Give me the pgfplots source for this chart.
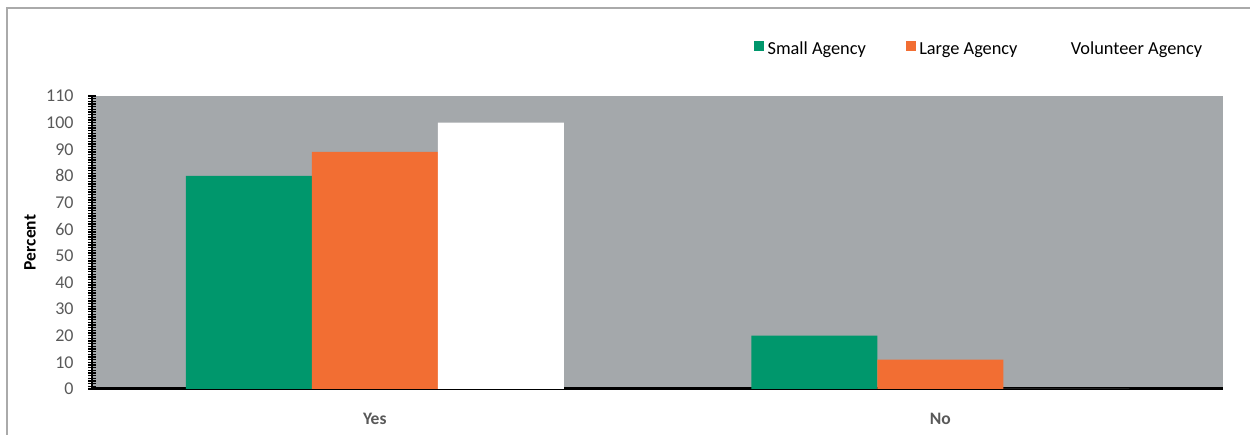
\documentclass[border=0pt]{standalone}
\usepackage{pgfplots}
\pgfplotsset{compat=1.18}
\usepackage{fontspec}
\setmainfont{Carlito}
\definecolor{bggray}{RGB}{164,168,171}
\definecolor{sgreen}{RGB}{0,151,108}
\definecolor{lorange}{RGB}{242,110,51}
\definecolor{ticktext}{RGB}{89,89,89}
\definecolor{framegray}{RGB}{170,170,170}
\begin{document}
\begin{tikzpicture}
\useasboundingbox (-55.2pt,-27.6pt) rectangle (694.8pt,233.4pt);
\draw[framegray, line width=1.2pt] (-51pt,-27.6pt) -- (-51pt,228.6pt) -- (694.8pt,228.6pt);
\begin{axis}[
  at={(0pt,0pt)}, anchor=south west,
  scale only axis,
  width=678.6pt, height=175.8pt,
  xmin=-0.5, xmax=1.5, ymin=0, ymax=110,
  enlarge x limits=false,
  axis background/.style={fill=bggray},
  axis x line*=bottom, axis y line*=left,
  x axis line style={line width=1.8pt,-},
  y axis line style={line width=1.2pt,-},
  xtick={0,1}, xticklabels={Yes,No},
  major x tick style={draw=none},
  ytick={0,10,...,110},
  minor y tick num=9,
  tick align=center,
  major tick length=5pt, minor tick length=5pt,
  every tick/.style={black, line width=0.8pt},
  every y tick/.style={black, line width=0.8pt},
  every minor tick/.style={black, line width=0.8pt},
  /pgf/number format/assume math mode=true,
  tick label style={font=\fontsize{10.8}{12}\selectfont, text=ticktext},
  yticklabel style={xshift=-5pt},
  xticklabel style={font=\fontsize{10.5}{12}\selectfont\bfseries, yshift=-6pt},
  ylabel={Percent},
  ylabel style={at={(axis description cs:-0.0548,0.5)}, anchor=center, font=\fontsize{10.5}{12}\selectfont\bfseries},
  ybar=0pt, bar width=75.6pt,
  legend columns=3,
  legend style={at={(0.785,1.157)}, anchor=center, draw=none, fill=none,
    font=\fontsize{11}{13}\selectfont,
    /tikz/every even column/.append style={column sep=22pt},
    nodes={inner sep=2pt, text height=7.5pt, text depth=2.5pt}},
  legend image code/.code={\fill[#1] (0pt,-0.5pt) rectangle (6pt,5.5pt);},
]
\addplot[fill=sgreen, draw=none] coordinates {(0,80) (1,20)};
\addplot[fill=lorange, draw=none] coordinates {(0,89) (1,11)};
\addplot[fill=white, draw=none] coordinates {(0,100) (1,0)};
\legend{Small Agency, Large Agency, Volunteer Agency}
\end{axis}
\end{tikzpicture}
\end{document}
